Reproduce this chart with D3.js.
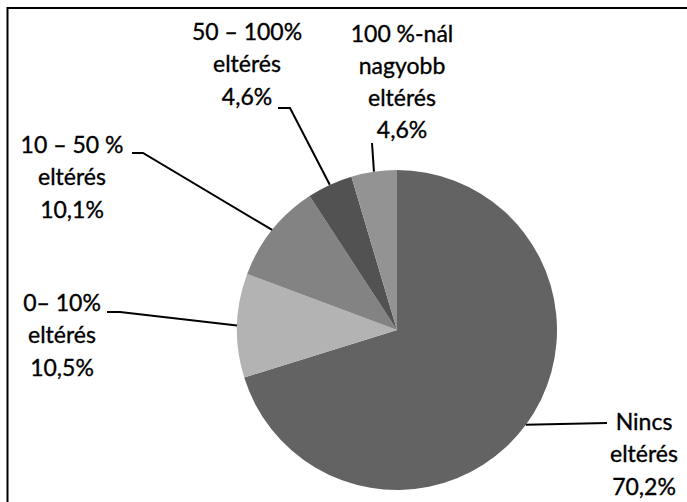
<!DOCTYPE html>
<html>
<head>
<meta charset="utf-8">
<script src="https://cdn.jsdelivr.net/npm/d3@7"></script>
<style>
  html, body { margin: 0; padding: 0; background: #fff; }
  svg { display: block; }
  .lbl { font-family: Lato, "Open Sans", sans-serif; font-size: 23px; fill: #000; stroke: #000; stroke-width: 0.35px; }
</style>
</head>
<body>
<div id="chart"></div>
<script>
// donnees du graphique
const categories = ["Nincs eltérés", "0– 10% eltérés", "10 – 50 % eltérés", "50 – 100% eltérés", "100 %-nál nagyobb eltérés"];
const values = [70.2, 10.5, 10.1, 4.6, 4.6];
const labelLines = [
    ["Nincs", "eltérés"],
    ["0– 10%", "eltérés"],
    ["10 – 50 %", "eltérés"],
    ["50 – 100%", "eltérés"],
    ["100 %-nál", "nagyobb", "eltérés"]
];

// style / mise en page
const couleurs = ["#636363", "#b3b3b3", "#838383", "#525252", "#939393"];
const largeur = 687, hauteur = 502;
const centre = [397, 330], rayon = 160;
const interligne = 32.3;
// position du texte (centre x, premiere ligne de base)
const ancres = [[644, 430], [62, 311], [72, 153], [247, 40], [402, 41.5]];
// points du trait de rappel apres le bord du camembert
const rappels = [
    [[607, 423]],
    [[120, 312], [107, 312]],
    [[143, 153], [132, 153]],
    [[290, 108], [278, 108]],
    [[372, 143]]
];

const fmt = v => d3.format(".1f")(v).replace(".", ",") + "%";

const svg = d3.select("#chart").append("svg")
    .attr("width", largeur).attr("height", hauteur);

// cadre (coupe a droite et en bas)
svg.append("path")
    .attr("d", "M7.5," + hauteur + " L7.5,8 L" + largeur + ",8")
    .attr("fill", "none")
    .attr("stroke", "#000")
    .attr("stroke-width", 2);

const pie = d3.pie().sort(null).value(d => d)(values);
const arc = d3.arc().innerRadius(0).outerRadius(rayon);
const bord = d3.arc().innerRadius(rayon).outerRadius(rayon);

const g = svg.append("g").attr("transform", "translate(" + centre[0] + "," + centre[1] + ")");
g.selectAll("path.part")
    .data(pie)
    .enter().append("path")
    .attr("class", "part")
    .attr("d", arc)
    .attr("fill", (d, i) => couleurs[i]);

// traits de rappel
const ligne = d3.line();
pie.forEach((d, i) => {
    const c = bord.centroid(d);
    const pts = [[c[0] + centre[0], c[1] + centre[1]]].concat(rappels[i]);
    svg.append("path")
        .attr("d", ligne(pts))
        .attr("fill", "none")
        .attr("stroke", "#000")
        .attr("stroke-width", 2);
});

// etiquettes
labelLines.forEach((lignes, i) => {
    const txt = svg.append("text")
        .attr("class", "lbl")
        .attr("text-anchor", "middle");
    lignes.concat([fmt(values[i])]).forEach((t, k) => {
        txt.append("tspan")
            .attr("x", ancres[i][0])
            .attr("y", ancres[i][1] + k * interligne)
            .text(t);
    });
});
</script>
</body>
</html>
